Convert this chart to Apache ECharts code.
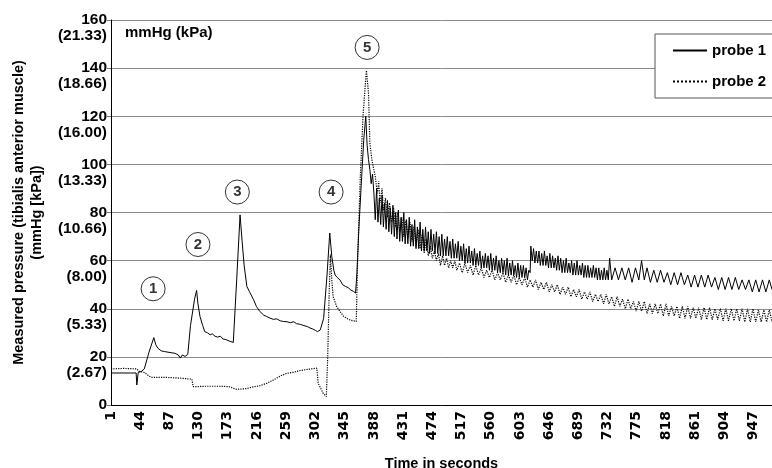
<!DOCTYPE html>
<html lang="en">
<head>
    <meta charset="UTF-8">
    <title>Measured pressure</title>
    <style>
        html, body { margin: 0; padding: 0; background: #fff; }
        #chart { width: 772px; height: 468px; }
    </style>
</head>
<body>
<div id="chart"></div>
<script src="https://cdn.jsdelivr.net/npm/echarts@6/dist/echarts.min.js"></script>
<script>
    'use strict';
    // x tick labels (seconds) and y tick labels (mmHg + kPa)
    let xTicks = [1, 44, 87, 130, 173, 216, 259, 302, 345, 388, 431, 474, 517, 560, 603, 646, 689, 732, 775, 818, 861, 904, 947];
    let yTicks = [0, 20, 40, 60, 80, 100, 120, 140, 160];
    let yKpa = ['', '(2.67)', '(5.33)', '(8.00)', '(10.66)', '(13.33)', '(16.00)', '(18.66)', '(21.33)'];

    // probe 1 (solid) [time, mmHg]
    let probe1 = [
        [1,13.3],[30,13.3],[38,13.3],[39,8.3],[41,13.5],[46,14],[50,15],[57,22],[64,28],[67,25],[70,23.6],[75,22.5],
        [80,22.2],[88,21.8],[95,21.5],[100,20.8],[103,19.5],[106,20.8],[110,20.2],[114,21],[118,33],[124,44],[127,47.6],
        [129,42],[132,36.8],[136,33],[139,30.5],[143,30],[147,29.2],[150,29.6],[154,28.6],[158,28.2],[162,28.6],[166,27.4],
        [170,27.2],[175,26.6],[181,26],[186,52],[191,79],[194,68],[197,58],[201,49.3],[205,47],[211,43.7],[215,41],
        [220,38.9],[226,37.3],[230,36.8],[235,36.1],[240,35.6],[245,35.8],[250,35],[255,34.7],[260,34.6],[265,34.2],
        [270,34.6],[274,33.8],[280,33.5],[285,33],[290,32.6],[294,32],[298,31.6],[302,31],[305,30.5],[309,31.2],[314,36],
        [319,54],[323,71.5],[326,61.8],[329,56],[331,54],[334,53],[338,52],[342,50],[346,49.3],[350,48.8],[354,47.8],
        [358,47.2],[361,46.5],[363,55],[366,74],[370,95],[373,110],[376,120],[378,108],[380,102],[382,98],[384,92],
        [386,96],[388,88],[390,77],[392,90],[394,76],[396,86],[398,75],[400,87],[402,74],[404,84],[406,73],[408,85],
        [410,72],[412,82],[414,71],[416,83],[418,70],[420,80],[422,69],[424,81],[426,68],[428,78],[430,68],[432,80],
        [434,67],[436,77],[438,67],[440,78],[442,66],[444,75],[446,66],[448,77],[450,65],[452,74],[454,65],[456,76],
        [458,64],[460,73],[462,64],[464,74],[466,64],[468,72],[470,63],[472,73],[474,64],[476,71],[478,63],[480,72],
        [482,63],[484,70],[486,62],[488,71],[490,62],[492,69],[494,62],[496,70],[498,62],[500,68],[502,61],[504,69],
        [506,61],[508,67],[510,61],[512,68],[514,60],[516,66],[518,60],[520,67],[522,59],[524,65],[526,59],[528,66],
        [530,59],[532,64],[534,58],[536,65],[538,58],[540,63],[542,58],[544,64],[546,57],[548,62],[550,57],[552,63],
        [554,57],[556,62],[558,56],[560,63],[562,56],[564,61],[566,56],[568,62],[570,55],[572,60],[574,55],[576,61],
        [578,55],[580,60],[582,54],[584,61],[586,54],[588,59],[590,54],[592,60],[594,54],[596,58],[598,53],[600,59],
        [602,53],[604,58],[606,53],[608,58],[610,53],[612,57],[614,52],[616,56],[618,55],[619,66],[621,60],[623,65],
        [625,59],[627,64],[629,59],[631,64],[633,58],[635,63],[637,58],[639,64],[641,58],[643,62],[645,57],[647,63],
        [649,57],[651,62],[653,57],[655,61],[657,56],[659,62],[661,56],[663,61],[665,55],[667,60],[669,55],[671,61],
        [673,55],[675,59],[677,55],[679,60],[681,54],[683,59],[685,54],[687,60],[689,54],[691,58],[693,54],[695,59],
        [697,53],[699,58],[701,53],[703,58],[705,53],[707,57],[709,53],[711,58],[713,53],[715,57],[717,52],[719,57],
        [721,52],[723,56],[725,52],[727,57],[729,52],[731,56],[733,52],[735,61],[738,52],[743,57],[748,52],[753,57],
        [758,52],[763,57],[768,51],[773,57],[778,52],[782,60],[786,52],[790,57],[795,51],[800,56],[805,51],[810,56],
        [815,51],[820,55],[825,50],[830,55],[835,50],[840,55],[845,50],[850,54],[855,49],[860,54],[865,49],[870,54],
        [875,49],[880,54],[885,49],[890,53],[895,48],[900,53],[905,48],[910,53],[915,48],[920,53],[925,48],[930,52],
        [935,48],[940,52],[945,47],[950,52],[955,47],[960,52],[965,47],[970,52],[974,48]
    ];

    // probe 2 (dotted) [time, mmHg]
    let probe2 = [
        [1,15],[20,15.2],[39,15],[42,14],[45,13.9],[50,13.5],[55,12.5],[60,11.5],[80,11.5],[100,11.2],[110,11],
        [115,10.8],[120,10.8],[122,7.6],[140,7.8],[160,7.8],[175,7.6],[186,6.5],[200,6.8],[210,7.5],[220,8],[230,9],
        [240,10.4],[250,12],[260,13.2],[270,13.6],[279,14.3],[290,14.8],[304,15.3],[306,9],[313,5],[318,3.5],[320,20],
        [322,45],[324,62.5],[326,52],[328,45],[333,41],[338,38.9],[343,37],[348,36],[354,35.2],[362,34.7],[364,60],
        [368,95],[372,120],[375,132],[377,139],[380,130],[382,109],[385,102],[387,99],[390,95],[393,88],[395,93],
        [397,84],[400,90],[402,81],[405,86],[408,78],[411,84],[414,76],[417,82],[420,74],[423,80],[426,72],[429,78],
        [432,70],[435,77],[438,69],[441,76],[444,68],[447,74],[450,66],[453,73],[456,65],[459,71],[462,63],[465,69],
        [468,62],[471,66],[474,61],[477,64],[480,60],[483,63],[486,58],[489,62],[492,58],[495,61],[498,57],[501,60],
        [504,57],[507,60],[510,56],[514,59],[518,55],[522,59],[526,55],[530,58],[534,54],[538,58],[542,54],[546,57],
        [550,53],[554,56],[558,53],[562,56],[566,52],[570,55],[574,52],[578,55],[582,51],[586,54],[590,51],[594,54],
        [598,50],[602,53],[606,50],[610,53],[614,49],[618,52],[622,49],[626,52],[630,48],[634,51],[638,48],[642,51],
        [646,47],[650,50],[654,47],[658,50],[662,46],[666,49],[670,46],[674,49],[678,45],[682,48],[686,45],[690,48],
        [694,44],[698,47],[702,44],[706,47],[710,43],[714,46],[718,43],[722,46],[726,42],[730,46],[734,42],[738,45],
        [742,41],[746,45],[750,41],[754,44],[758,40],[762,44],[766,40],[770,43],[774,39],[778,43],[782,39],[786,43],
        [790,38],[794,42],[798,38],[802,42],[806,38],[810,42],[814,37],[818,42],[822,37],[826,41],[830,37],[834,41],
        [838,36],[842,41],[846,36],[850,41],[854,36],[858,40.5],[862,36],[866,40.5],[870,35.5],[874,40.5],[878,35.5],
        [882,40.5],[886,35.5],[890,40],[894,35.5],[898,40],[902,35],[906,40],[910,35],[914,40],[918,35],[922,40],
        [926,35],[930,40],[934,34.5],[938,40],[942,34.5],[946,40],[950,34.5],[954,39.5],[958,34.5],[962,39.5],
        [966,34.5],[970,39.5],[974,34.5]
    ];

    // circled event numbers
    let markTime = [63, 129, 187, 325, 378];
    let markValue = [48.3, 66.7, 88.5, 88.5, 148.6];
    let markText = ['1', '2', '3', '4', '5'];

    let font = 'Liberation Sans, Arial, sans-serif';

    let chart = echarts.init(document.getElementById('chart'));
    let option = {
        animation: false,
        backgroundColor: '#fff',
        grid: { left: 111, right: 0, top: 20, bottom: 63, outerBoundsMode: 'none', containLabel: false },
        legend: {
            data: ['probe 1', 'probe 2'],
            orient: 'vertical',
            left: 655,
            top: 34,
            padding: [9, 30, 9, 17],
            itemGap: 16,
            itemWidth: 34,
            itemHeight: 14,
            borderColor: '#555',
            borderWidth: 1,
            backgroundColor: '#fff',
            itemStyle: { opacity: 0 },
            textStyle: { fontFamily: font, fontWeight: 'bold', fontSize: 15, color: '#000' }
        },
        graphic: [{
            type: 'text', left: 125, top: 25,
            style: { text: 'mmHg (kPa)', fontFamily: font, fontWeight: 'bold', fontSize: 15, fill: '#000' }
        }],
        xAxis: {
            type: 'value',
            min: 1,
            max: 974,
            name: 'Time in seconds',
            nameLocation: 'middle',
            nameGap: 51,
            nameTextStyle: { fontFamily: font, fontWeight: 'bold', fontSize: 14.5, color: '#000' },
            axisLine: { lineStyle: { color: '#000', width: 1 } },
            axisTick: { show: false },
            splitLine: { show: false },
            axisLabel: {
                customValues: xTicks,
                rotate: 90,
                margin: 6,
                fontFamily: 'DejaVu Sans, sans-serif',
                fontWeight: 'bold',
                fontSize: 14,
                color: '#000'
            }
        },
        yAxis: {
            type: 'value',
            min: 0,
            max: 160,
            interval: 20,
            name: 'Measured pressure (tibialis anterior muscle)\n(mmHg [kPa])',
            nameLocation: 'middle',
            nameGap: 65,
            nameTextStyle: { fontFamily: font, fontWeight: 'bold', fontSize: 14.5, lineHeight: 18, color: '#000' },
            axisLine: { show: true, lineStyle: { color: '#000', width: 1 } },
            axisTick: { show: true, length: 4, lineStyle: { color: '#777' } },
            splitLine: { lineStyle: { color: '#8a8a8a', width: 1 } },
            axisLabel: {
                margin: 4,
                showMaxLabel: true,
                showMinLabel: true,
                hideOverlap: false,
                fontFamily: font,
                fontWeight: 'bold',
                fontSize: 15.5,
                lineHeight: 16,
                color: '#000',
                formatter: function (v) {
                    let k = yKpa[yTicks.indexOf(v)];
                    return k ? '\n' + v + '\n' + k : String(v);
                }
            }
        },
        series: [
            {
                name: 'probe 1',
                type: 'line',
                data: probe1,
                symbol: 'none',
                color: '#000',
                lineStyle: { color: '#000', width: 1 },
                z: 3
            },
            {
                name: 'probe 2',
                type: 'line',
                data: probe2,
                symbol: 'none',
                color: '#000',
                lineStyle: { color: '#000', width: 1.2, type: 'dotted' },
                z: 2
            },
            {
                name: 'marks',
                type: 'scatter',
                data: markTime.map(function (t, i) { return [t, markValue[i]]; }),
                symbol: 'circle',
                symbolSize: 24,
                itemStyle: { color: '#fff', borderColor: '#000', borderWidth: 1 },
                label: {
                    show: true,
                    position: 'inside',
                    formatter: function (p) { return markText[p.dataIndex]; },
                    fontFamily: font,
                    fontWeight: 'bold',
                    fontSize: 15,
                    color: '#000'
                },
                silent: true,
                z: 4
            }
        ]
    };
    chart.setOption(option);
</script>
</body>
</html>
